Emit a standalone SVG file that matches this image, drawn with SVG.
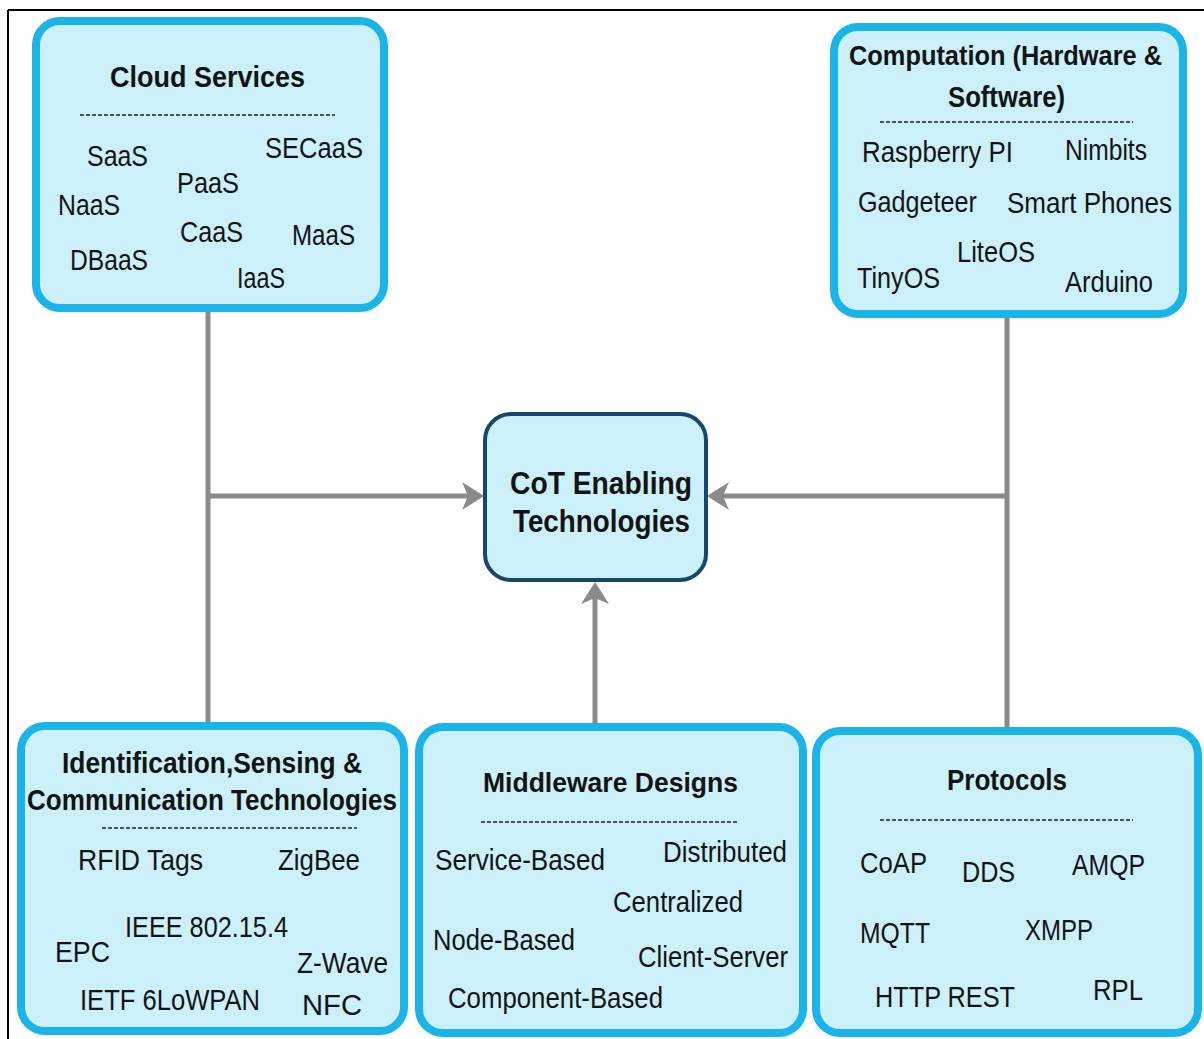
<svg xmlns="http://www.w3.org/2000/svg" width="1204" height="1039" viewBox="0 0 1204 1039">
<style>
.box{fill:#cbf0f9;stroke:#1ab4e8;stroke-width:8}
.core{fill:#cbf0f9;stroke:#17466e;stroke-width:4}
.t{font-family:"Liberation Sans",Arial,sans-serif;font-weight:bold;fill:#141414}
.i{font-family:"Liberation Sans",Arial,sans-serif;font-size:30px;fill:#141414}
.dash{stroke:#222;stroke-width:1.6;stroke-dasharray:4 2}
.con{stroke:#8a8a8a;stroke-width:5;fill:none}
.frame{stroke:#000;stroke-width:2}
</style>
<defs>
<marker id="ah" viewBox="0 0 22 28" refX="6" refY="14" markerWidth="22" markerHeight="28" markerUnits="userSpaceOnUse" orient="auto">
<path d="M0,0 L22,14 L0,28 L6,14 Z" fill="#8a8a8a"/>
</marker>
</defs>
<rect width="1204" height="1039" fill="#fff"/>
<line class="frame" x1="8" y1="10" x2="1204" y2="10"/>
<line class="frame" x1="8" y1="10" x2="8" y2="1039"/>

<g id="connectors">
<line class="con" x1="208" y1="310" x2="208" y2="724"/>
<line class="con" x1="208" y1="496" x2="468" y2="496" marker-end="url(#ah)"/>
<line class="con" x1="1007" y1="316" x2="1007" y2="729"/>
<line class="con" x1="1007" y1="496" x2="723" y2="496" marker-end="url(#ah)"/>
<line class="con" x1="595" y1="725" x2="595" y2="598" marker-end="url(#ah)"/>
</g>

<g id="cloud">
<rect class="box" x="36" y="21" width="348" height="287" rx="24"/>
<text class="t" x="110" y="87" font-size="29" textLength="195" lengthAdjust="spacingAndGlyphs">Cloud Services</text>
<line class="dash" x1="80" y1="115" x2="335" y2="115"/>
<text class="i" x="87" y="166" textLength="61" lengthAdjust="spacingAndGlyphs">SaaS</text>
<text class="i" x="265" y="158" textLength="98" lengthAdjust="spacingAndGlyphs">SECaaS</text>
<text class="i" x="177" y="193" textLength="62" lengthAdjust="spacingAndGlyphs">PaaS</text>
<text class="i" x="58" y="215" textLength="62" lengthAdjust="spacingAndGlyphs">NaaS</text>
<text class="i" x="180" y="242" textLength="63" lengthAdjust="spacingAndGlyphs">CaaS</text>
<text class="i" x="292" y="245" textLength="63" lengthAdjust="spacingAndGlyphs">MaaS</text>
<text class="i" x="70" y="270" textLength="78" lengthAdjust="spacingAndGlyphs">DBaaS</text>
<text class="i" x="237" y="288" textLength="48" lengthAdjust="spacingAndGlyphs">IaaS</text>
</g>

<g id="computation">
<rect class="box" x="834" y="27" width="349" height="287" rx="24"/>
<text class="t" x="849" y="65" font-size="28" textLength="313" lengthAdjust="spacingAndGlyphs">Computation (Hardware &amp;</text>
<text class="t" x="948" y="107" font-size="30" textLength="117" lengthAdjust="spacingAndGlyphs">Software)</text>
<line class="dash" x1="880" y1="122" x2="1133" y2="122"/>
<text class="i" x="862" y="162" textLength="151" lengthAdjust="spacingAndGlyphs">Raspberry PI</text>
<text class="i" x="1065" y="160" textLength="82" lengthAdjust="spacingAndGlyphs">Nimbits</text>
<text class="i" x="858" y="212" textLength="119" lengthAdjust="spacingAndGlyphs">Gadgeteer</text>
<text class="i" x="1007" y="213" textLength="165" lengthAdjust="spacingAndGlyphs">Smart Phones</text>
<text class="i" x="957" y="262" textLength="78" lengthAdjust="spacingAndGlyphs">LiteOS</text>
<text class="i" x="857" y="288" textLength="83" lengthAdjust="spacingAndGlyphs">TinyOS</text>
<text class="i" x="1065" y="292" textLength="88" lengthAdjust="spacingAndGlyphs">Arduino</text>
</g>

<g id="cot">
<rect class="core" x="485" y="414" width="221" height="166" rx="26"/>
<text class="t" x="510" y="494" font-size="32" fill="#1c2a33" textLength="182" lengthAdjust="spacingAndGlyphs">CoT Enabling</text>
<text class="t" x="513" y="532" font-size="32" fill="#1c2a33" textLength="177" lengthAdjust="spacingAndGlyphs">Technologies</text>
</g>

<g id="identification">
<rect class="box" x="21" y="726" width="383" height="305" rx="24"/>
<text class="t" x="62" y="773" font-size="30" textLength="300" lengthAdjust="spacingAndGlyphs">Identification,Sensing &amp;</text>
<text class="t" x="27" y="810" font-size="30" textLength="370" lengthAdjust="spacingAndGlyphs">Communication Technologies</text>
<line class="dash" x1="102" y1="828" x2="357" y2="828"/>
<text class="i" x="78" y="870" textLength="125" lengthAdjust="spacingAndGlyphs">RFID Tags</text>
<text class="i" x="278" y="870" textLength="82" lengthAdjust="spacingAndGlyphs">ZigBee</text>
<text class="i" x="125" y="937" textLength="163" lengthAdjust="spacingAndGlyphs">IEEE 802.15.4</text>
<text class="i" x="55" y="962" textLength="55" lengthAdjust="spacingAndGlyphs">EPC</text>
<text class="i" x="297" y="973" textLength="91" lengthAdjust="spacingAndGlyphs">Z-Wave</text>
<text class="i" x="80" y="1010" textLength="180" lengthAdjust="spacingAndGlyphs">IETF 6LoWPAN</text>
<text class="i" x="302" y="1015" textLength="60" lengthAdjust="spacingAndGlyphs">NFC</text>
</g>

<g id="middleware">
<rect class="box" x="419" y="727" width="384" height="306" rx="24"/>
<text class="t" x="483" y="792" font-size="28" textLength="255" lengthAdjust="spacingAndGlyphs">Middleware Designs</text>
<line class="dash" x1="481" y1="822" x2="737" y2="822"/>
<text class="i" x="435" y="870" textLength="170" lengthAdjust="spacingAndGlyphs">Service-Based</text>
<text class="i" x="663" y="862" textLength="124" lengthAdjust="spacingAndGlyphs">Distributed</text>
<text class="i" x="613" y="912" textLength="130" lengthAdjust="spacingAndGlyphs">Centralized</text>
<text class="i" x="433" y="950" textLength="142" lengthAdjust="spacingAndGlyphs">Node-Based</text>
<text class="i" x="638" y="967" textLength="150" lengthAdjust="spacingAndGlyphs">Client-Server</text>
<text class="i" x="448" y="1008" textLength="215" lengthAdjust="spacingAndGlyphs">Component-Based</text>
</g>

<g id="protocols">
<rect class="box" x="816" y="731" width="382" height="302" rx="24"/>
<text class="t" x="947" y="790" font-size="29" textLength="120" lengthAdjust="spacingAndGlyphs">Protocols</text>
<line class="dash" x1="880" y1="820" x2="1133" y2="820"/>
<text class="i" x="860" y="873" textLength="67" lengthAdjust="spacingAndGlyphs">CoAP</text>
<text class="i" x="962" y="882" textLength="53" lengthAdjust="spacingAndGlyphs">DDS</text>
<text class="i" x="1072" y="875" textLength="73" lengthAdjust="spacingAndGlyphs">AMQP</text>
<text class="i" x="860" y="943" textLength="70" lengthAdjust="spacingAndGlyphs">MQTT</text>
<text class="i" x="1025" y="940" textLength="68" lengthAdjust="spacingAndGlyphs">XMPP</text>
<text class="i" x="875" y="1007" textLength="140" lengthAdjust="spacingAndGlyphs">HTTP REST</text>
<text class="i" x="1093" y="1000" textLength="50" lengthAdjust="spacingAndGlyphs">RPL</text>
</g>
</svg>
